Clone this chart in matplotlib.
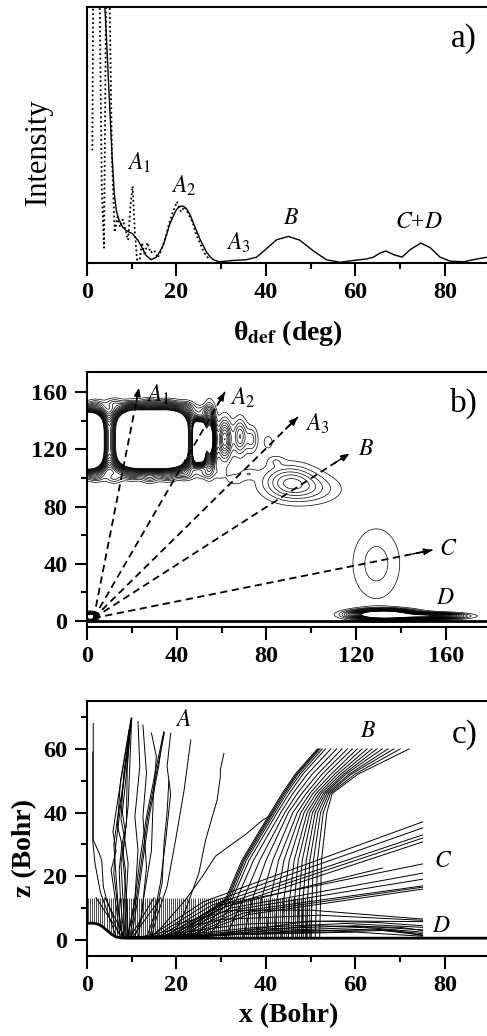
import numpy as np
import matplotlib.pyplot as plt

plt.rcParams['font.family'] = ['Liberation Serif', 'DejaVu Serif']
plt.rcParams['mathtext.fontset'] = 'stix'

# ---------------- panel a: angular distribution ----------------
theta_sol = [3.7, 4.3, 5.0, 5.6, 6.1, 6.6, 7.2, 8.0, 8.7, 9.5,
             10.2, 10.8, 11.4, 12.3, 13.2, 14.3, 15.5, 16.3, 17.0, 17.7,
             18.4, 19.2, 19.9, 20.5, 21.1, 21.7, 22.2, 23.0, 23.7, 24.5,
             25.2, 26.0, 26.7, 27.5, 28.2, 29.6, 32.6, 35.6, 37.9, 40.1,
             42.4, 45.0, 47.6, 50.6, 53.5, 56.5, 59.5, 62.5, 64.0, 65.5,
             66.8, 68.5, 70.4, 72.2, 74.6, 76.7, 78.9, 81.2, 84.2, 87.2, 89.5]
int_sol = [1.10, 0.90, 0.64, 0.42, 0.27, 0.20, 0.167, 0.14, 0.128, 0.12,
           0.115, 0.10, 0.089, 0.06, 0.03, 0.013, 0.023, 0.045, 0.069, 0.105,
           0.148, 0.18, 0.206, 0.218, 0.223, 0.220, 0.213, 0.19, 0.16, 0.125,
           0.095, 0.067, 0.043, 0.025, 0.013, 0.005, 0.010, 0.013, 0.023, 0.056,
           0.091, 0.104, 0.089, 0.047, 0.013, 0.003, 0.010, 0.016, 0.023, 0.039,
           0.047, 0.033, 0.023, 0.052, 0.078, 0.060, 0.023, 0.007, 0.005, 0.016, 0.023]

theta_dot = [1.2, 1.4, 2.0, 2.8, 3.3, 3.8, 4.3, 4.9, 5.6, 6.2,
             6.8, 7.4, 8.0, 8.6, 9.2, 9.7, 10.2, 10.7, 11.2, 11.7,
             12.3, 12.9, 13.5, 14.2, 15.0, 15.8, 16.6, 17.4, 18.3, 19.2,
             20.1, 21.0, 21.8, 22.7, 23.6, 24.4, 25.2, 26.2, 27.3]
int_dot = [0.44, 1.10, 1.20, 1.10, 0.30, 0.06, 1.10, 1.20, 0.40, 0.12,
           0.18, 0.14, 0.17, 0.13, 0.09, 0.22, 0.30, 0.12, 0.01, 0.00,
           0.08, 0.03, 0.08, 0.04, 0.05, 0.02, 0.05, 0.09, 0.15, 0.20,
           0.24, 0.20, 0.22, 0.19, 0.16, 0.11, 0.08, 0.04, 0.015]

peak_names_a = ['$A_1$', '$A_2$', '$A_3$', '$B$', '$C$+$D$']
peak_pos_a_x = [9.0, 18.8, 31.1, 43.7, 68.9]
peak_pos_a_y = [0.39, 0.30, 0.08, 0.174, 0.16]

# ---------------- panel b: density map ----------------
# flat-topped band segments (centre x, centre z, half widths, amplitude)
band_x = [-3, 29, 50]
band_z = [126, 127, 125]
band_wx = [10, 15.5, 2.6]
band_wz = [19, 19.5, 14]
band_amp = [3.3, 3.3, 2.5]
# isolated maxima (centre x, centre z, widths, amplitude)
peak_x = [54.6, 61.4, 68.2, 73.4, 80.8,
          4, 12, 20, 28, 36, 44, 52, 4, 12, 20, 28, 36, 44, 52,
          59, 66, 72, 84, 90, 101, 129, 132, 152, 1.5]
peak_z = [127, 127, 129, 127, 125,
          151, 152, 150, 152, 151, 150, 147, 101, 100, 102, 100, 101, 102, 103,
          104, 99, 103, 112, 97, 92, 40, 4.5, 3.5, 3]
peak_sx = [1.6, 2.0, 2.0, 1.8, 1.8,
           2.5, 2.5, 2.5, 2.5, 2.5, 2.5, 2.5, 2.5, 2.5, 2.5, 2.5, 2.5, 2.5, 2.5,
           2.0, 3.0, 2.5, 2.5, 8, 9, 7.7, 8, 9, 1.5]
peak_sz = [11, 9, 8, 6, 4,
           2.5, 2.5, 2.5, 2.5, 2.5, 2.5, 2.5, 2.5, 2.5, 2.5, 2.5, 2.5, 2.5, 2.5,
           3.5, 3.0, 2.5, 2.5, 8, 7, 18, 2.0, 1.3, 1.5]
peak_amp = [1.5, 0.45, 0.3, 0.17, 0.08,
            0.15, 0.15, 0.15, 0.15, 0.15, 0.15, 0.12, 0.15, 0.15, 0.15, 0.15, 0.15, 0.15, 0.12,
            0.08, 0.08, 0.08, 0.07, 0.28, 0.12, 0.125, 2.0, 1.0, 2.0]

arrow_end_x = [23.2, 61.5, 94, 117, 154]
arrow_end_y = [163, 160, 142.5, 117, 49.6]
labels_b = ['$A_1$', '$A_2$', '$A_3$', '$B$', '$C$', '$D$']
labels_b_x = [26.3, 63.7, 97.1, 120.9, 157, 155.8]
labels_b_y = [158, 156, 138, 120, 50.3, 15.4]

# ---------------- panel c: trajectories ----------------
surf_x = [0, 1.5, 2.5, 3.5, 4.5, 5.5, 6.5, 7.5, 9, 90]
surf_z = [5.3, 5.3, 5.0, 4.2, 3.0, 1.8, 1.0, 0.7, 0.6, 0.6]
z_entry = 13.3
x_entry = np.linspace(0.3, 50, 111)   # incoming impact positions

traj_A_x = [
    [7.0, 5.5, 4.4, 3.65, 3.3, 2.5, 1.4, 1.4],
    [6.5, 4.8, 3.0, 1.8, 1.3, 1.3],
    [7.8, 6.7, 6.0, 6.3, 7.4, 10.0],
    [8.0, 7.0, 6.5, 6.0, 6.8, 8.0, 9.9],
    [8.3, 7.5, 7.2, 7.8, 6.8, 7.5, 9.8],
    [8.5, 8.0, 7.6, 8.4, 7.6, 8.2, 9.7],
    [8.8, 8.4, 8.6, 7.8, 8.8, 9.0, 9.9],
    [9.0, 8.8, 9.2, 8.4, 9.2, 9.6, 10.0],
    [9.2, 9.0, 8.0, 8.6, 7.9, 8.8, 9.6],
    [7.4, 6.2, 5.4, 6.5, 5.8, 7.0, 9.4],
    [9.2, 10.7, 11.4, 10.7, 11.8, 11.4],
    [10.7, 12.2, 13.3, 12.5, 13.3, 12.5],
    [11.5, 12.6, 14.4, 14.8, 15.5, 14.4],
    [9.2, 10.7, 11.8, 13.3, 15.5, 17.2],
    [9.6, 11.0, 12.2, 13.6, 15.8, 17.3],
    [10.0, 11.3, 12.5, 13.9, 16.0, 17.0],
    [13.4, 14.9, 16.4, 17.6, 18.7, 17.9, 18.7],
    [14.0, 15.3, 16.8, 17.2, 17.9, 18.3],
    [14.4, 15.6, 17.9, 19.8, 21.7, 23.2],
    [19.5, 22.0, 25.0, 26.5, 29.1, 29.8, 29.8, 30.6],
    [14.4, 16.8, 22.0, 25.8, 28.7, 31.7, 35.4, 39.3, 41.0],
    [2.0, 8.0], [4.0, 8.5], [15.0, 9.5], [16.5, 10.0],
]
traj_A_z = [
    [2, 8.4, 12.6, 16.8, 25, 28, 31.4, 68],
    [1, 8, 15, 24, 31, 59],
    [1, 12.6, 21, 28.2, 40.8, 69.6],
    [1, 10, 20, 30, 38, 48, 69.6],
    [1, 12, 22, 30, 36, 50, 69],
    [1, 14, 24, 32, 38, 52, 68],
    [1, 12, 22, 30, 36, 54, 69.6],
    [1, 14, 24, 32, 42, 56, 69.6],
    [1, 10, 26, 34, 40, 52, 67],
    [1, 14, 22, 28, 34, 45, 66],
    [2, 12.6, 28.2, 38.7, 54.4, 68.6],
    [1, 7.3, 23, 38.7, 52.3, 67.5],
    [1, 12.6, 28, 44, 57.6, 65],
    [1, 12.6, 25, 38.7, 54.4, 65.5],
    [1, 12.6, 25, 38.7, 54.4, 65.0],
    [1, 12.6, 25, 38.7, 54.4, 64.0],
    [1, 7.3, 17.8, 31.4, 46, 54.4, 64.9],
    [1, 8, 18, 30, 40, 50],
    [1, 7.3, 16.8, 31.4, 47, 62.8],
    [2, 9.4, 21, 31.4, 44, 51.3, 53.4, 58.6],
    [1, 4.2, 12.6, 20, 26.3, 29.4, 33.1, 37.7, 39],
    [13.3, 0.6], [13.3, 0.6], [13.3, 0.6], [13.3, 0.6],
]

traj_B_z = [1, 13, 25, 40, 46, 52, 60]
traj_B_x = [
    [19, 31.0, 34.6, 41.0, 43.6, 46.5, 51.5],
    [20, 31.3, 34.9, 41.3, 43.9, 46.8, 51.8],
    [21, 31.6, 35.2, 41.6, 44.2, 47.1, 52.1],
    [22, 32.0, 35.6, 42.0, 44.6, 47.6, 52.6],
    [24, 32.5, 36.2, 42.5, 45.2, 48.2, 53.3],
    [27, 33.5, 37.2, 43.3, 46.0, 49.2, 54.5],
    [31, 35.0, 38.6, 44.2, 47.0, 50.3, 55.8],
    [35, 37.0, 40.0, 45.0, 48.0, 51.5, 57.0],
    [38, 39.0, 41.5, 46.0, 49.0, 52.5, 58.2],
    [40, 41.0, 42.8, 47.0, 49.8, 53.5, 59.3],
    [42, 42.5, 44.0, 47.8, 50.5, 54.5, 60.4],
    [43.5, 44.0, 45.2, 48.5, 51.2, 55.3, 61.5],
    [45, 45.3, 46.3, 49.2, 51.8, 56.0, 62.6],
    [46, 46.4, 47.2, 49.8, 52.3, 56.7, 63.7],
    [47, 47.4, 48.1, 50.4, 52.8, 57.3, 64.8],
    [48, 48.3, 49.0, 51.0, 53.2, 57.8, 66.0],
    [49, 49.3, 49.8, 51.6, 53.6, 58.5, 67.3],
    [50, 50.3, 50.6, 52.2, 54.0, 59.0, 68.6],
    [51, 51.3, 51.5, 52.8, 54.4, 59.8, 70.0],
    [52, 52.2, 52.4, 53.6, 54.8, 60.5, 72.0],
]

traj_C_x0 = [14, 15, 16, 17, 18, 17, 18, 19, 20, 21, 22, 23]
traj_C_xm = [26, 27, 28, 29, 30, 30, 31, 32, 33, 34, 35, 36]
traj_C_zm = [12, 11.5, 11, 10.5, 10, 11, 10.5, 10, 9.5, 9, 8.5, 8]
traj_C_xe = [75, 75, 75, 75, 75, 75, 66, 75, 75, 75, 75, 75]
traj_C_ze = [37.1, 35.2, 33.0, 32.0, 30.8, 23.9, 22.6, 21.0, 19.1, 17.0, 16.6, 16.0]

traj_D_x = [
    [20, 32, 50, 75], [12, 30, 52, 75], [14, 35, 55, 75], [16, 38, 58, 75],
    [18, 40, 60, 75], [20, 42, 62, 75], [22, 45, 64, 75], [10, 40, 66, 75],
    [24, 48, 68, 75], [8, 35, 60, 75], [26, 50, 70, 75], [30, 50, 65, 75],
]
traj_D_z = [
    [5, 9.3, 9.4, 6.6], [1, 6.5, 7.8, 6.2], [1, 5.0, 6.0, 5.8], [1, 4.0, 5.2, 4.0],
    [1, 3.5, 4.5, 3.2], [1, 3.0, 4.0, 2.5], [1, 2.5, 3.5, 2.0], [1, 2.0, 3.0, 1.6],
    [1, 3.0, 3.2, 1.4], [1, 1.8, 2.5, 1.2], [1, 4.5, 4.0, 3.0], [2, 6.0, 5.5, 4.5],
]

labels_c = ['$A$', '$B$', '$C$', '$D$']
labels_c_x = [21.6, 62.9, 79.6, 79.3]
labels_c_y = [69, 65.4, 24.6, 4.2]


def style_axis(ax):
    for s in ax.spines.values():
        s.set_linewidth(1.5)
    ax.tick_params(which='major', direction='out', length=9, width=1.5,
                   labelsize=17.5, pad=5)
    ax.tick_params(which='minor', direction='out', length=4.5, width=1.5)
    for t in ax.get_xticklabels() + ax.get_yticklabels():
        t.set_fontweight('bold')


fig = plt.figure(figsize=(4.87, 10.36), dpi=100)

# ---- a) ----
ax1 = fig.add_axes([0.1786, 0.7461, 0.827, 0.2471])
ax1.plot(theta_sol, int_sol, color='k', lw=1.0)
ax1.plot(theta_dot, int_dot, color='k', lw=1.3, ls=(0, (1, 1.5)))
ax1.set_xlim(0, 90)
ax1.set_ylim(0, 1)
ax1.set_xticks([0, 20, 40, 60, 80])
ax1.set_xticks([10, 30, 50, 70, 90], minor=True)
ax1.set_yticks([])
ax1.set_ylabel('Intensity', fontsize=22)
ax1.yaxis.set_label_coords(-0.084, 0.434)
ax1.set_xlabel('θ$_{\\mathbf{def}}$ (deg)', fontsize=20, fontweight='bold')
ax1.xaxis.set_label_coords(0.5, -0.215)
for name, px, py in zip(peak_names_a, peak_pos_a_x, peak_pos_a_y):
    ax1.text(px, py, name, fontsize=17, ha='left', va='center')
ax1.text(84.2, 0.875, 'a)', fontsize=24, ha='center', va='center')
style_axis(ax1)

# ---- b) ----
ax2 = fig.add_axes([0.1786, 0.3948, 0.829, 0.2461])
gx = np.linspace(0, 180, 560)
gz = np.linspace(-4, 174, 560)
X, Z = np.meshgrid(gx, gz)
F = np.zeros_like(X)
for x0, z0, wx, wz, a in zip(band_x, band_z, band_wx, band_wz, band_amp):
    F += a * np.exp(-((X - x0) / wx) ** 4 - ((Z - z0) / wz) ** 4)
for x0, z0, sx, sz, a in zip(peak_x, peak_z, peak_sx, peak_sz, peak_amp):
    F += a * np.exp(-0.5 * (((X - x0) / sx) ** 2 + ((Z - z0) / sz) ** 2))
ax2.contour(X, Z, F, levels=np.linspace(0.05, 1.0, 20), colors='k', linewidths=0.5)
ax2.axhline(0, color='k', lw=2)
for ex, ey in zip(arrow_end_x, arrow_end_y):
    ax2.plot([3, ex], [2, ey], color='k', lw=1.3, ls=(0, (4, 2.5)))
    ax2.annotate('', xy=(ex, ey), xytext=(ex - 0.06 * (ex - 3), ey - 0.06 * (ey - 2)),
                 arrowprops=dict(arrowstyle='-|>,head_length=0.5,head_width=0.2',
                                 color='k', lw=1.0, shrinkA=0, shrinkB=0))
for name, px, py in zip(labels_b, labels_b_x, labels_b_y):
    ax2.text(px, py, name, fontsize=17, ha='left', va='center')
ax2.text(168, 152, 'b)', fontsize=24, ha='center', va='center')
ax2.set_xlim(0, 180)
ax2.set_ylim(-4.2, 174)
ax2.set_xticks([0, 40, 80, 120, 160])
ax2.set_xticks([20, 60, 100, 140, 180], minor=True)
ax2.set_yticks([0, 40, 80, 120, 160])
ax2.set_yticks([20, 60, 100, 140], minor=True)
style_axis(ax2)

# ---- c) ----
ax3 = fig.add_axes([0.1786, 0.0772, 0.827, 0.2461])
surf_at_entry = np.interp(x_entry, surf_x, surf_z)
ax3.vlines(x_entry, surf_at_entry, z_entry, color='k', lw=0.5)
for xs, zs in zip(traj_A_x, traj_A_z):
    ax3.plot(xs, zs, color='k', lw=0.7)
for xs in traj_B_x:
    ax3.plot(xs, traj_B_z, color='k', lw=0.7)
for x0, xm, zm, xe, ze in zip(traj_C_x0, traj_C_xm, traj_C_zm, traj_C_xe, traj_C_ze):
    ax3.plot([x0, xm, xe], [1, zm, ze], color='k', lw=0.7)
for xs, zs in zip(traj_D_x, traj_D_z):
    ax3.plot(xs, zs, color='k', lw=0.7)
ax3.plot(surf_x, surf_z, color='k', lw=2)
for name, px, py in zip(labels_c, labels_c_x, labels_c_y):
    ax3.text(px, py, name, fontsize=17, ha='center', va='center')
ax3.text(84.5, 64.4, 'c)', fontsize=24, ha='center', va='center')
ax3.set_xlim(0, 90)
ax3.set_ylim(-5, 75)
ax3.set_xticks([0, 20, 40, 60, 80])
ax3.set_xticks([10, 30, 50, 70, 90], minor=True)
ax3.set_yticks([0, 20, 40, 60])
ax3.set_yticks([10, 30, 50, 70], minor=True)
ax3.set_xlabel('x (Bohr)', fontsize=20, fontweight='bold')
ax3.xaxis.set_label_coords(0.5, -0.185)
ax3.set_ylabel('z (Bohr)', fontsize=20, fontweight='bold')
ax3.yaxis.set_label_coords(-0.124, 0.424)
style_axis(ax3)

fig.savefig('out.png', dpi=100)
